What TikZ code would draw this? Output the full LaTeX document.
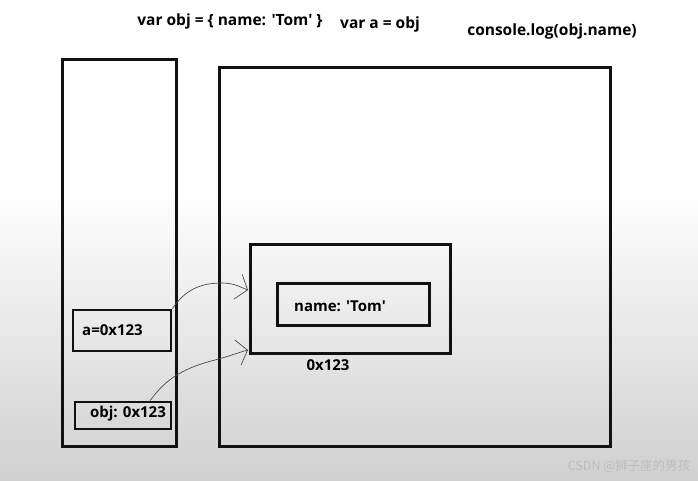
\documentclass[tikz,border=0pt]{standalone}
\usepackage{fontspec}
\setmainfont{Open Sans}
\newfontfamily\cjkfont{Noto Sans CJK SC}
\usepackage{xcolor}
\usepackage{tikz}
\usetikzlibrary{arrows.meta,positioning,calc}
\definecolor{inkline}{HTML}{111111}
\definecolor{penline}{HTML}{4A4A4A}
\definecolor{floorgray}{HTML}{D0D0D0}
\definecolor{markgray}{HTML}{BDBDBD}
\newcommand{\sq}{\textquotesingle}

\begin{document}
\begin{tikzpicture}[
    x=1pt,y=-1pt,
    memblock/.style={draw=inkline,line width=3pt,inner sep=0pt},
    cell/.style={draw=inkline,line width=2.8pt,inner sep=0pt},
    code/.style={font=\bfseries\fontsize{15.5}{18}\selectfont,inner sep=0pt},
    label/.style={font=\bfseries\fontsize{15}{18}\selectfont,inner sep=0pt},
    link/.style={-{Straight Barb[length=10pt,width=26pt]},draw=penline,line width=0.7pt}
]
    \useasboundingbox (0,0) rectangle (698,480);
    \fill[white] (0,0) rectangle (698,190);
    \shade[top color=white,bottom color=floorgray] (0,190) rectangle (698,480);

    % code lines on top
    \node[code] (decl) at (230,21) {var obj = \{ name: \sq Tom\sq\ \}};
    \node[code] (copy) at (380,24) {var a = obj};
    \node[code] (print) at (552,31) {console.log(obj.name)};

    % stack and heap
    \node[memblock,minimum width=114pt,minimum height=387pt] (stack) at (119,252.5) {};
    \node[memblock,minimum width=391pt,minimum height=379pt] (heap) at (414.5,256.5) {};

    % object in the heap
    \node[memblock,minimum width=200pt,minimum height=109pt] (objbox) at (350,298.5) {};
    \node[memblock,minimum width=152pt,minimum height=42pt] (field) at (353,304) {};
    \node[label] (fieldtxt) at (340,306) {name: \sq Tom\sq};
    \node[label] (addr) at (328,365) {0x123};

    % variables in the stack
    \node[cell,minimum width=98pt,minimum height=41pt] (avar) at (122,330.5) {};
    \node[label,anchor=west] (avartxt) at (82,330) {a=0x123};
    \node[cell,minimum width=96pt,minimum height=27pt] (objvar) at (123,415.5) {};
    \node[label] (objvartxt) at (128,414) {obj: 0x123};

    \coordinate (hitA) at (248,290);
    \coordinate (hitB) at (248,350);

    \draw[link] (avar.north east) .. controls (185,290) and (200,283) .. (222,283) .. controls (235,283) and (242,288) .. (hitA);
    \draw[link] (objvar.north) ++(27,0) .. controls (162,385) and (175,370) .. (215,360) .. controls (230,356) and (240,352) .. (hitB);

    % watermark
    \node[text=markgray,font=\cjkfont\fontsize{12.5}{14}\selectfont,inner sep=0pt] (mark) at (629,466) {CSDN @狮子座的男孩};
\end{tikzpicture}
\end{document}
